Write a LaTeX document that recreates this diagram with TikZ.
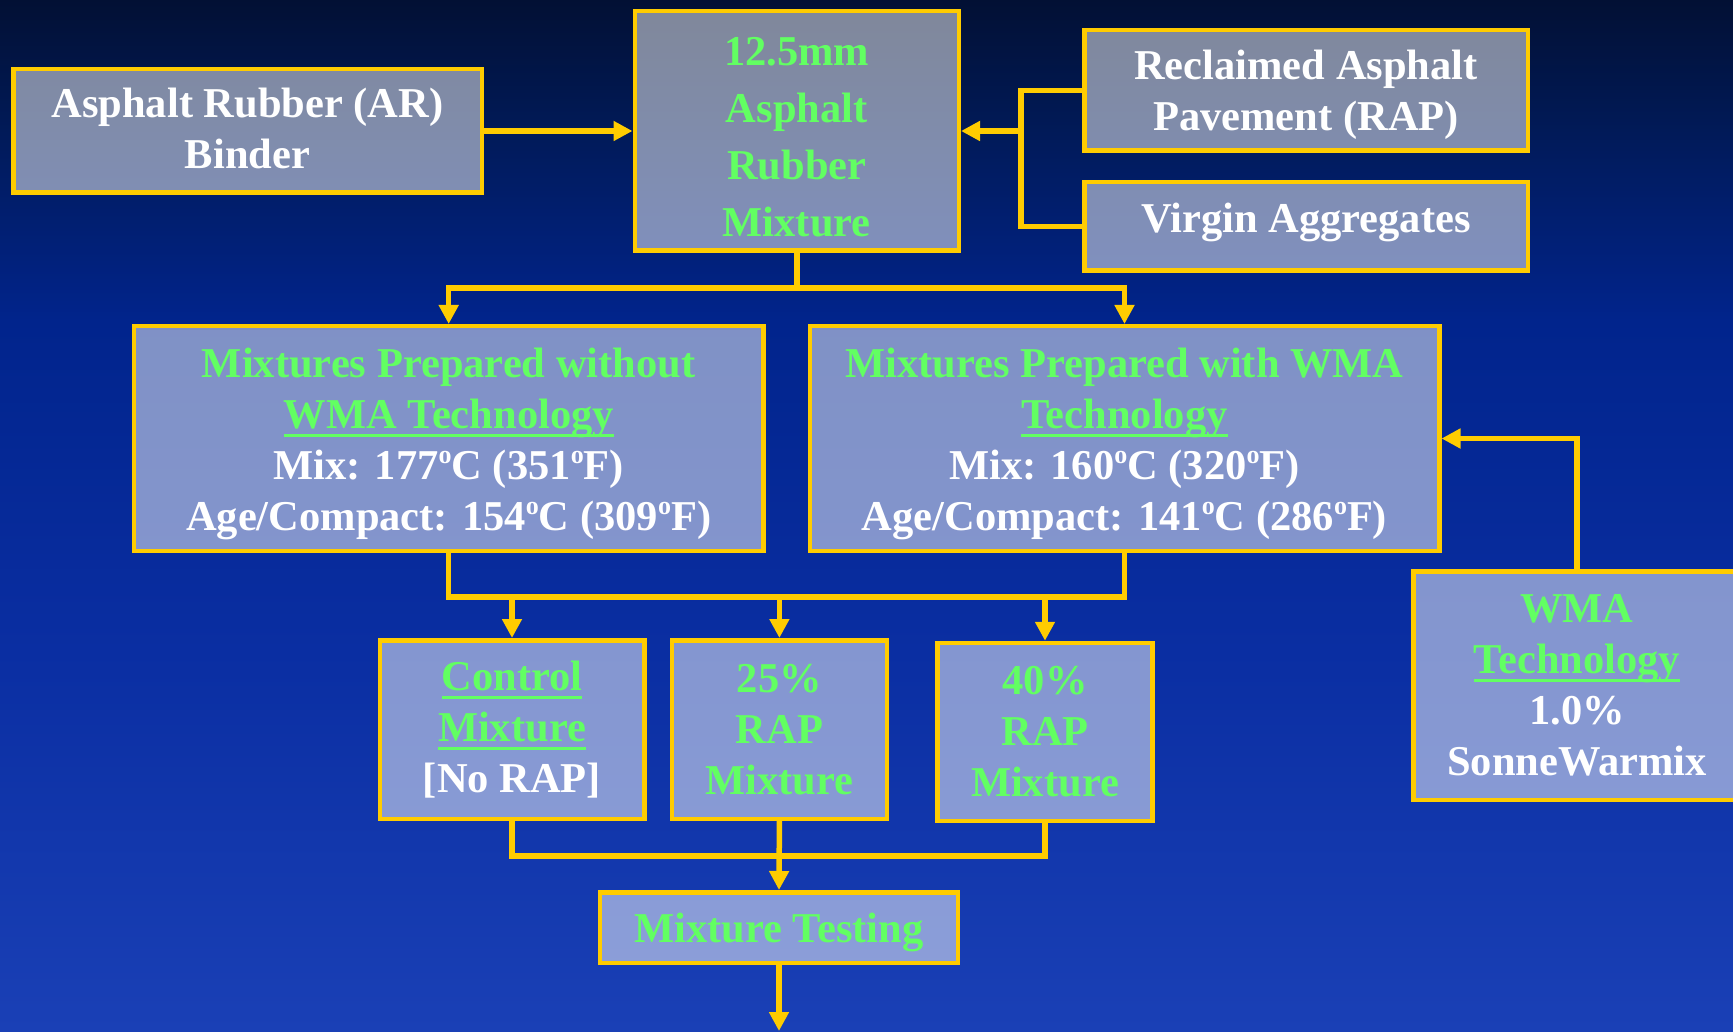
\documentclass[tikz,border=0pt]{standalone}
\usepackage{fontspec}
\setmainfont{Liberation Serif}
\usetikzlibrary{arrows.meta}

\definecolor{gold}{RGB}{255,204,0}
\definecolor{lime}{RGB}{98,255,98}
\definecolor{bgA}{RGB}{2,16,52}
\definecolor{bgB}{RGB}{1,26,88}
\definecolor{bgC}{RGB}{1,36,140}
\definecolor{bgD}{RGB}{10,46,162}
\definecolor{bgE}{RGB}{26,64,182}

% underline at a fixed depth below the baseline
\newsavebox\ulinebox
\newcommand\ulword[1]{\sbox\ulinebox{#1}\rlap{\rule[-8.5pt]{\wd\ulinebox}{3.3pt}}\usebox\ulinebox}
\newcommand\grn[1]{\textcolor{lime}{#1}}
% raised small "o" used as degree mark
\newcommand\dg{\raisebox{16pt}{\fontsize{26}{26}\selectfont o}}
% invisible struts that nudge a text block down (toppad) or up (botpad)
\newcommand\toppad[1]{\rule{0pt}{#1}}
\newcommand\botpad[1]{\rule[-#1]{0pt}{#1}}

\begin{document}
\begin{tikzpicture}[x=1pt,y=-1pt,
  box/.style={draw=gold, line width=4.5pt, fill=white, fill opacity=0.5,
    text opacity=1, align=center, inner sep=0pt, text=white,
    font=\fontsize{42.5}{51}\selectfont\bfseries},
  link/.style={draw=gold, line width=5.5pt},
  arr/.style={link, -{Triangle[width=19pt,length=19pt]}},
]
\useasboundingbox (0,0) rectangle (1733,1032);
\clip (0,0) rectangle (1733,1032);

% background
\shade[top color=bgA, bottom color=bgB] (0,0) rectangle (1733,131);
\shade[top color=bgB, bottom color=bgC] (0,130) rectangle (1733,321);
\shade[top color=bgC, bottom color=bgD] (0,320) rectangle (1733,651);
\shade[top color=bgD, bottom color=bgE] (0,650) rectangle (1733,1032);

% boxes
\node[box, minimum width=468.5, minimum height=123.5] (ar) at (247.5,131)
  {Asphalt Rubber (AR)\\Binder\botpad{4.5pt}};
\node[box, text=lime, font=\fontsize{42.5}{57}\selectfont\bfseries,
  minimum width=324, minimum height=239.5] (mix) at (796.75,131)
  {\toppad{40.8pt}12.5mm\\Asphalt\\Rubber\\Mixture};
\node[box, minimum width=443.5, minimum height=120.5] (rap) at (1306,90.5)
  {\toppad{38.8pt}Reclaimed Asphalt\\Pavement (RAP)};
\node[box, minimum width=443.5, minimum height=88.5] (virgin) at (1306,226.5)
  {Virgin Aggregates\botpad{17pt}};

\node[box, minimum width=629.5, minimum height=224.5] (wo) at (448.7,438.5)
  {\toppad{40.8pt}\grn{Mixtures Prepared without}\\\grn{\ulword{WMA Technology}}\\
   Mix: 177\dg C (351\dg F)\\Age/Compact: 154\dg C (309\dg F)};
\node[box, minimum width=629.5, minimum height=224.5] (wi) at (1124.5,438.5)
  {\toppad{40.8pt}\grn{Mixtures Prepared with WMA}\\\grn{\ulword{Technology}}\\
   Mix: 160\dg C (320\dg F)\\Age/Compact: 141\dg C (286\dg F)};

\node[box, minimum width=264.5, minimum height=178.5] (ctrl) at (512,729.5)
  {\grn{\ulword{Control}}\\\grn{\ulword{Mixture}}\\{[No RAP]}};
\node[box, text=lime, minimum width=214.8, minimum height=178.5] (r25) at (779.4,729.5)
  {25\%\\RAP\\Mixture};
\node[box, text=lime, minimum width=214.7, minimum height=178] (r40) at (1045,732)
  {40\%\\RAP\\Mixture};
\node[box, text=lime, minimum width=357.7, minimum height=70.5] (test) at (779,927.5)
  {\toppad{39.8pt}Mixture Testing};

\node[box, minimum width=327.5, minimum height=228.5] (wma) at (1577,685.5)
  {\grn{WMA}\\\grn{\ulword{Technology}}\\1.0\%\\SonneWarmix};

% connectors
\draw[arr] (ar) -- (mix);

\coordinate (jr) at (1021,131);
\draw[link] (rap.west) -| (jr) |- (virgin.west);
\draw[arr] (jr) -- (mix.east);

\coordinate (split) at (796.75,288);
\draw[arr] (mix.south) -- (split) -| (wo.north);
\draw[arr] (split) -| (wi.north);

\path (wo.south) ++(0,44) coordinate (busL);
\path (wi.south) ++(0,44) coordinate (busR);
\draw[link] (wo.south) -- (busL) -- (busR) -- (wi.south);
\draw[arr] (busL -| ctrl.north) -- (ctrl.north);
\draw[arr] (busL -| r25.north) -- (r25.north);
\draw[arr] (busL -| r40.north) -- (r40.north);

\path (ctrl.south) ++(0,35) coordinate (mergeL);
\draw[link] (ctrl.south) -- (mergeL) -| (r40.south);
\draw[arr] (r25.south) -- (test.north);

\coordinate (out) at (779,1031);
\draw[arr] (test.south) -- (out);

\draw[arr] (wma.north) |- (wi.east);
\end{tikzpicture}
\end{document}
